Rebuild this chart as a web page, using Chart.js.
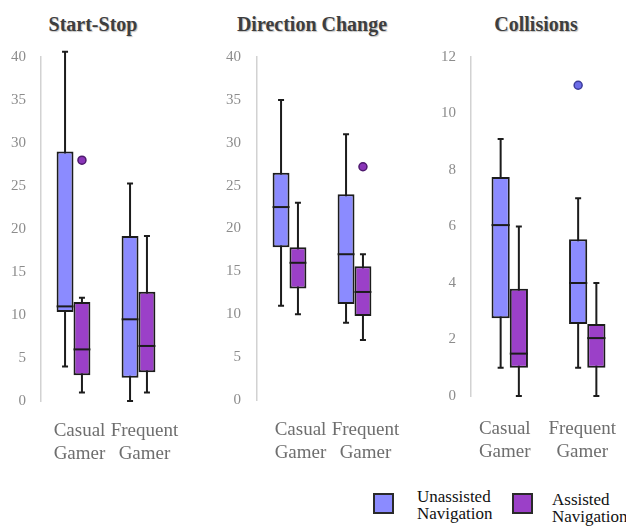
<!DOCTYPE html>
<html>
<head>
<meta charset="utf-8">
<script src="https://cdn.jsdelivr.net/npm/chart.js@4.4.0/dist/chart.umd.min.js"></script>
<style>
  body { margin: 0; background: #fff; }
  #wrap { position: relative; width: 626px; height: 526px; overflow: hidden; font-family: "Liberation Serif", serif; }
  canvas { position: absolute; top: 0; }
  .titulo { position: absolute; top: 13px; width: 200px; text-align: center; font-family: "Liberation Serif", serif; font-weight: bold; font-size: 20px; color: #3e3e3e; text-shadow: 1px 1px 1px rgba(0,0,0,0.25); }
  .leg-box { position: absolute; width: 17px; height: 17px; border: 2px solid #2a2a2a; }
  .leg-text { position: absolute; font-size: 17px; line-height: 17px; color: #111; }
</style>
</head>
<body>
<div id="wrap">
  <div class="titulo" style="left: -7px;">Start-Stop</div>
  <div class="titulo" style="left: 212px;">Direction Change</div>
  <div class="titulo" style="left: 436px;">Collisions</div>
  <canvas id="chart-start" width="180" height="480" style="left:0px;width:180px;height:480px;"></canvas>
  <canvas id="chart-direcao" width="200" height="480" style="left:200px;width:200px;height:480px;"></canvas>
  <canvas id="chart-colisoes" width="226" height="480" style="left:400px;width:226px;height:480px;"></canvas>
  <div class="leg-box" style="left:373px;top:493px;background:#8b8bff;"></div>
  <div class="leg-text" style="left:417px;top:488px;">Unassisted<br>Navigation</div>
  <div class="leg-box" style="left:512px;top:493px;background:#9b40c8;"></div>
  <div class="leg-text" style="left:552px;top:491px;">Assisted<br>Navigation</div>
</div>
<script>
// Categorias (eixo x)
const grupos = [["Casual", "Gamer"], ["Frequent", "Gamer"]];

// Start-Stop
const startUnMin = [4, 0];
const startUnQ1 = [10.35, 2.7];
const startUnMed = [11, 9.5];
const startUnQ3 = [29, 19.2];
const startUnMax = [40.6, 25.3];
const startUnOut = [[], []];
const startAsMin = [1, 1];
const startAsQ1 = [3, 3.35];
const startAsMed = [6, 6.4];
const startAsQ3 = [11.5, 12.7];
const startAsMax = [12, 19.2];
const startAsOut = [[28], []];
const startTicks = [0, 5, 10, 15, 20, 25, 30, 35, 40];

// Direction Change
const direcaoUnMin = [11, 9];
const direcaoUnQ1 = [17.8, 11.2];
const direcaoUnMed = [22.5, 17];
const direcaoUnQ3 = [26.5, 24];
const direcaoUnMax = [35, 31];
const direcaoUnOut = [[], []];
const direcaoAsMin = [10, 7];
const direcaoAsQ1 = [13, 9.8];
const direcaoAsMed = [16, 12.6];
const direcaoAsQ3 = [17.8, 15.6];
const direcaoAsMax = [23, 17];
const direcaoAsOut = [[], [27.2]];
const direcaoTicks = [0, 5, 10, 15, 20, 25, 30, 35, 40];

// Collisions
const colisoesUnMin = [1, 1];
const colisoesUnQ1 = [2.75, 2.55];
const colisoesUnMed = [6.05, 4];
const colisoesUnQ3 = [7.75, 5.55];
const colisoesUnMax = [9.1, 7];
const colisoesUnOut = [[], [11]];
const colisoesAsMin = [0, 0];
const colisoesAsQ1 = [1, 1];
const colisoesAsMed = [1.5, 2.05];
const colisoesAsQ3 = [3.8, 2.55];
const colisoesAsMax = [6, 4];
const colisoesAsOut = [[], []];
const colisoesTicks = [0, 2, 4, 6, 8, 10, 12];

const COR_UN = "#8b8bff";
const COR_AS = "#9b40c8";
const COR_LINHA = "#1c1c1c";

// Plugin que desenha bigodes, medianas e outliers usando as escalas do Chart.js
const boxplotPlugin = {
  id: "boxplot",
  beforeDatasetsDraw(chart) {
    const ctx = chart.ctx;
    const y = chart.scales.y;
    chart.data.datasets.forEach((ds, i) => {
      const meta = chart.getDatasetMeta(i);
      meta.data.forEach((bar, j) => {
        const top = y.getPixelForValue(ds.stats.max[j]);
        const bottom = y.getPixelForValue(ds.stats.min[j]);
        ctx.save();
        ctx.strokeStyle = COR_LINHA;
        ctx.lineWidth = 2;
        ctx.beginPath();
        ctx.moveTo(bar.x, top);
        ctx.lineTo(bar.x, bottom);
        ctx.moveTo(bar.x - 3, top);
        ctx.lineTo(bar.x + 3, top);
        ctx.moveTo(bar.x - 3, bottom);
        ctx.lineTo(bar.x + 3, bottom);
        ctx.stroke();
        ctx.restore();
      });
    });
  },
  afterDatasetsDraw(chart) {
    const ctx = chart.ctx;
    const y = chart.scales.y;
    chart.data.datasets.forEach((ds, i) => {
      const meta = chart.getDatasetMeta(i);
      meta.data.forEach((bar, j) => {
        const med = y.getPixelForValue(ds.stats.med[j]);
        ctx.save();
        ctx.strokeStyle = COR_LINHA;
        ctx.lineWidth = 2;
        ctx.beginPath();
        ctx.moveTo(bar.x - bar.width / 2, med);
        ctx.lineTo(bar.x + bar.width / 2, med);
        ctx.stroke();
        // outliers
        ds.stats.out[j].forEach(v => {
          ctx.beginPath();
          ctx.arc(bar.x, y.getPixelForValue(v), 4, 0, Math.PI * 2);
          ctx.fillStyle = ds.outColor;
          ctx.fill();
          ctx.lineWidth = 1.5;
          ctx.strokeStyle = ds.outBorder;
          ctx.stroke();
        });
        ctx.restore();
      });
    });
  }
};

function caixas(q1, q3) {
  return q1.map((v, i) => [v, q3[i]]);
}

function criarPainel(id, un, as, ticks, opt) {
  const ctx = document.getElementById(id).getContext("2d");
  return new Chart(ctx, {
    type: "bar",
    data: {
      labels: grupos,
      datasets: [
        {
          label: "Unassisted Navigation",
          data: caixas(un.q1, un.q3),
          backgroundColor: COR_UN,
          borderColor: COR_LINHA,
          borderWidth: 2,
          borderSkipped: false,
          stats: un,
          outColor: "#6c6ce8",
          outBorder: "#3d3d9a"
        },
        {
          label: "Assisted Navigation",
          data: caixas(as.q1, as.q3),
          backgroundColor: COR_AS,
          borderColor: COR_LINHA,
          borderWidth: 2,
          borderSkipped: false,
          stats: as,
          outColor: "#8a35b8",
          outBorder: "#4e1a6e"
        }
      ]
    },
    options: {
      responsive: false,
      animation: false,
      categoryPercentage: opt.catPct,
      barPercentage: 1,
      layout: { padding: { top: 57, right: opt.padRight, left: 0, bottom: 0 } },
      scales: {
        x: {
          // tickLength empurra os rótulos para baixo sem mexer na largura da área
          grid: { display: false, drawTicks: true, tickLength: opt.tickLen },
          border: { display: false },
          ticks: {
            padding: 0,
            labelOffset: opt.labelOffset,
            maxRotation: 0,
            minRotation: 0,
            autoSkip: false,
            color: "#6e6e6e",
            font: { family: "'Liberation Serif', serif", size: 19, lineHeight: 1.21 }
          },
          afterFit: s => { s.height = opt.xHeight; }
        },
        y: {
          min: ticks[0],
          max: ticks[ticks.length - 1],
          grid: { display: false, drawTicks: false },
          border: { display: true, color: "#d2d2d2", width: 1.5 },
          afterBuildTicks: s => { s.ticks = ticks.map(v => ({ value: v })); },
          ticks: {
            padding: opt.tickPad,
            color: "#8c8c8c",
            font: { family: "'Liberation Serif', serif", size: 15 }
          },
          afterFit: s => { s.width = opt.yWidth; }
        }
      },
      plugins: {
        legend: { display: false },
        tooltip: { enabled: false }
      }
    },
    plugins: [boxplotPlugin]
  });
}

criarPainel("chart-start",
  { min: startUnMin, q1: startUnQ1, med: startUnMed, q3: startUnQ3, max: startUnMax, out: startUnOut },
  { min: startAsMin, q1: startAsQ1, med: startAsMed, q3: startAsQ3, max: startAsMax, out: startAsOut },
  startTicks,
  { yWidth: 41, padRight: 9, xHeight: 79, tickPad: 15, catPct: 0.52, labelOffset: 6, tickLen: 19 });

criarPainel("chart-direcao",
  { min: direcaoUnMin, q1: direcaoUnQ1, med: direcaoUnMed, q3: direcaoUnQ3, max: direcaoUnMax, out: direcaoUnOut },
  { min: direcaoAsMin, q1: direcaoAsQ1, med: direcaoAsMed, q3: direcaoAsQ3, max: direcaoAsMax, out: direcaoAsOut },
  direcaoTicks,
  { yWidth: 57, padRight: 13, xHeight: 80, tickPad: 16, catPct: 0.52, labelOffset: 11, tickLen: 19 });

criarPainel("chart-colisoes",
  { min: colisoesUnMin, q1: colisoesUnQ1, med: colisoesUnMed, q3: colisoesUnQ3, max: colisoesUnMax, out: colisoesUnOut },
  { min: colisoesAsMin, q1: colisoesAsQ1, med: colisoesAsMed, q3: colisoesAsQ3, max: colisoesAsMax, out: colisoesAsOut },
  colisoesTicks,
  { yWidth: 71, padRight: 0, xHeight: 84, tickPad: 15, catPct: 0.47, labelOffset: -5, tickLen: 22 });
</script>
</body>
</html>
